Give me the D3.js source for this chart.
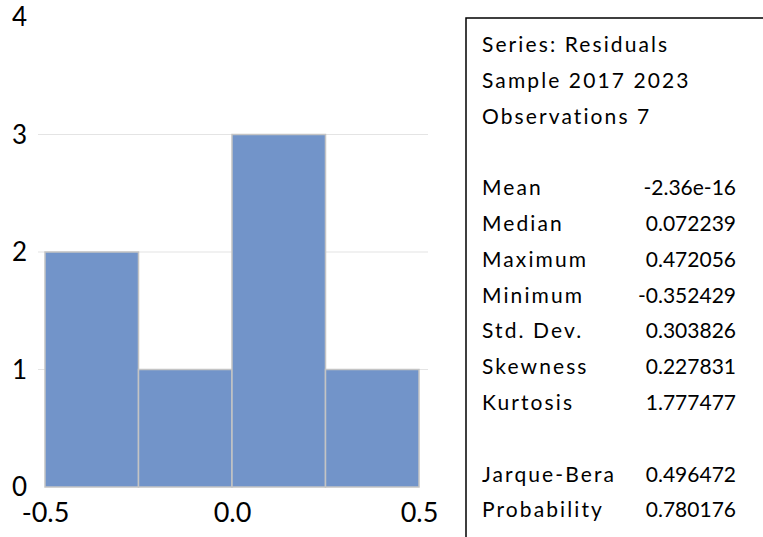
<!DOCTYPE html>
<html>
<head>
<meta charset="utf-8">
<script src="https://cdn.jsdelivr.net/npm/d3@7"></script>
<style>
  body { margin: 0; background: #fff; }
  svg { display: block; font-family: Lato, "Open Sans", sans-serif; }
</style>
</head>
<body>
<svg></svg>
<script>
const binEdges = [-0.5, -0.25, 0, 0.25, 0.5];
const counts = [2, 1, 3, 1];
const yTicks = [0, 1, 2, 3, 4];
const xTicks = [-0.5, 0, 0.5];
const headerLines = ["Series: Residuals", "Sample 2017 2023", "Observations 7"];
const statNames = ["Mean", "Median", "Maximum", "Minimum", "Std. Dev.", "Skewness", "Kurtosis"];
const statValues = ["-2.36e-16", "0.072239", "0.472056", "-0.352429", "0.303826", "0.227831", "1.777477"];
const testNames = ["Jarque-Bera", "Probability"];
const testValues = ["0.496472", "0.780176"];

const width = 763, height = 537;
const svg = d3.select("svg")
    .attr("width", width)
    .attr("height", height);

const x = d3.scaleLinear().domain([-0.5, 0.5]).range([45, 419]);
const y = d3.scaleLinear().domain([0, 4]).range([487, 17]);

// hyphen instead of unicode minus, like the original
const fmtX = d => d3.format(".1f")(d).replace("\u2212", "-");

// gridlines
svg.append("g")
    .selectAll("line")
    .data(yTicks.filter(d => d > 0 && d < 4))
    .enter().append("line")
    .attr("x1", 38)
    .attr("x2", 428)
    .attr("y1", d => y(d))
    .attr("y2", d => y(d))
    .attr("stroke", "#e4e4e4")
    .attr("stroke-width", 1.2);

// bars
const bins = counts.map((c, i) => ({ x0: binEdges[i], x1: binEdges[i + 1], count: c }));
svg.append("g")
    .selectAll("rect")
    .data(bins)
    .enter().append("rect")
    .attr("x", d => x(d.x0))
    .attr("y", d => y(d.count))
    .attr("width", d => x(d.x1) - x(d.x0))
    .attr("height", d => y(0) - y(d.count))
    .attr("fill", "#7294c9")
    .attr("stroke", "#c4c4c4")
    .attr("stroke-width", 1.5);

// y axis labels
const yAxis = svg.append("g")
    .attr("transform", "translate(27,0)")
    .call(d3.axisLeft(y).tickValues(yTicks).tickSize(0).tickPadding(0).tickFormat(d3.format("d")));
yAxis.select(".domain").remove();
yAxis.selectAll("text")
    .attr("font-family", "Lato, 'Open Sans', sans-serif")
    .attr("font-size", 26)
    .attr("dy", "0.33em")
    .attr("fill", "#000");

// x axis labels
const xAxis = svg.append("g")
    .attr("transform", "translate(0,522)")
    .call(d3.axisBottom(x).tickValues(xTicks).tickSize(0).tickPadding(0).tickFormat(fmtX));
xAxis.select(".domain").remove();
xAxis.selectAll("text")
    .attr("y", 0)
    .attr("dy", 0)
    .attr("font-family", "Lato, 'Open Sans', sans-serif")
    .attr("font-size", 27)
    .attr("fill", "#000");

// stats box
const boxLeft = 466, boxTop = 18;
svg.append("path")
    .attr("d", `M${boxLeft},${height + 2}V${boxTop}H${width + 2}`)
    .attr("fill", "none")
    .attr("stroke", "#000")
    .attr("stroke-width", 1.5);

const rowY = i => 52 + i * 35.8;
const textX = 482, valueX = 736;
const rows = [];
headerLines.forEach((t, i) => rows.push({ label: t, value: null, row: i }));
statNames.forEach((t, i) => rows.push({ label: t, value: statValues[i], row: 4 + i }));
testNames.forEach((t, i) => rows.push({ label: t, value: testValues[i], row: 12 + i }));

const stat = svg.append("g")
    .attr("font-size", 21)
    .attr("fill", "#000");

stat.selectAll("text.label")
    .data(rows)
    .enter().append("text")
    .attr("class", "label")
    .attr("x", textX)
    .attr("y", d => rowY(d.row))
    .attr("letter-spacing", 2.1)
    .text(d => d.label);

stat.selectAll("text.value")
    .data(rows.filter(d => d.value !== null))
    .enter().append("text")
    .attr("class", "value")
    .attr("x", valueX)
    .attr("y", d => rowY(d.row))
    .attr("text-anchor", "end")
    .text(d => d.value);
</script>
</body>
</html>
